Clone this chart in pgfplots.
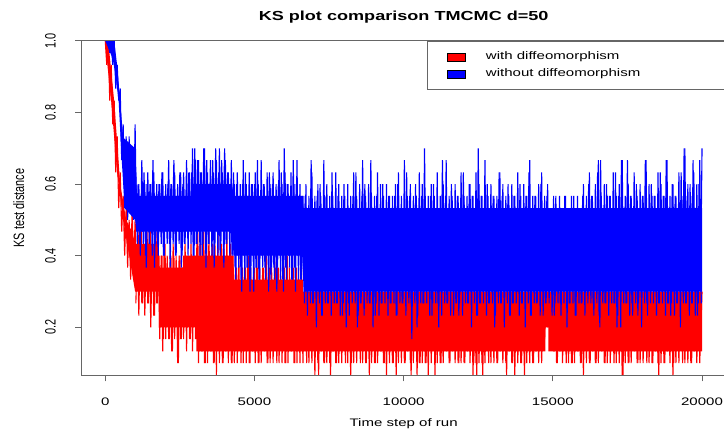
\documentclass[border=0pt]{standalone}
\usepackage{fontspec}
\setmainfont{Liberation Sans}[FakeStretch=1.38]
\newfontfamily\rotfont{Liberation Sans}
\usepackage{graphicx}
\usepackage{pgfplots}
\usepackage{pgfplotstable}
\pgfplotsset{compat=1.18}

\pgfplotstableread{
x r b
0 1 1
50 0.933 1
100 1 1
150 0.833 0.967
200 0.933 1
250 0.767 0.933
300 0.833 1
350 0.633 0.867
400 0.733 0.933
450 0.533 0.833
500 0.633 0.867
550 0.467 0.667
600 0.567 0.767
650 0.4 0.533
700 0.533 0.733
750 0.367 0.5
800 0.5 0.733
850 0.333 0.533
900 0.533 0.7
950 0.367 0.5
1000 0.5 0.767
1050 0.3 0.467
1100 0.467 0.6
1150 0.333 0.433
1200 0.5 0.567
1250 0.267 0.467
1300 0.433 0.633
1350 0.3 0.4
1400 0.467 0.6
1450 0.267 0.467
1500 0.5 0.6
1550 0.3 0.467
1600 0.433 0.667
1650 0.233 0.367
1700 0.467 0.567
1750 0.267 0.433
1800 0.4 0.6
1850 0.2 0.467
1900 0.4 0.633
1950 0.167 0.4
2000 0.433 0.567
2050 0.2 0.467
2100 0.367 0.6
2150 0.167 0.433
2200 0.4 0.6
2250 0.133 0.467
2300 0.4 0.667
2350 0.2 0.4
2400 0.367 0.567
2450 0.1 0.467
2500 0.4 0.633
2550 0.167 0.367
2600 0.367 0.6
2650 0.2 0.433
2700 0.4 0.567
2750 0.2 0.467
2800 0.367 0.633
2850 0.167 0.467
2900 0.4 0.633
2950 0.2 0.4
3000 0.4 0.7
3050 0.167 0.433
3100 0.467 0.667
3150 0.133 0.467
3200 0.433 0.633
3250 0.133 0.4
3300 0.467 0.7
3350 0.1 0.467
3400 0.433 0.667
3450 0.133 0.433
3500 0.4 0.6
3550 0.133 0.467
3600 0.433 0.667
3650 0.1 0.367
3700 0.4 0.7
3750 0.133 0.467
3800 0.367 0.633
3850 0.133 0.4
3900 0.433 0.667
3950 0.1 0.467
4000 0.4 0.7
4050 0.133 0.433
4100 0.4 0.633
4150 0.133 0.467
4200 0.433 0.6
4250 0.1 0.4
4300 0.367 0.633
4350 0.133 0.367
4400 0.367 0.6
4450 0.133 0.4
4500 0.333 0.567
4550 0.1 0.333
4600 0.367 0.6
4650 0.133 0.4
4700 0.367 0.633
4750 0.133 0.367
4800 0.4 0.567
4850 0.1 0.3
4900 0.333 0.6
4950 0.133 0.4
5000 0.367 0.6
5050 0.133 0.367
5100 0.367 0.667
5150 0.1 0.333
5200 0.333 0.567
5250 0.133 0.4
5300 0.367 0.6
5350 0.133 0.367
5400 0.4 0.567
5450 0.1 0.4
5500 0.367 0.633
5550 0.133 0.333
5600 0.333 0.6
5650 0.133 0.367
5700 0.367 0.567
5750 0.1 0.3
5800 0.367 0.6
5850 0.133 0.4
5900 0.333 0.633
5950 0.133 0.333
6000 0.367 0.7
6050 0.1 0.367
6100 0.4 0.6
6150 0.133 0.4
6200 0.333 0.567
6250 0.133 0.333
6300 0.367 0.667
6350 0.1 0.367
6400 0.367 0.6
6450 0.133 0.4
6500 0.333 0.567
6550 0.133 0.333
6600 0.333 0.567
6650 0.133 0.333
6700 0.333 0.567
6750 0.1 0.3
6800 0.3 0.533
6850 0.167 0.333
6900 0.3 0.667
6950 0.133 0.267
7000 0.267 0.533
7050 0.133 0.3
7100 0.3 0.567
7150 0.067 0.3
7200 0.333 0.6
7250 0.133 0.233
7300 0.3 0.533
7350 0.1 0.3
7400 0.3 0.567
7450 0.133 0.267
7500 0.267 0.533
7550 0.067 0.3
7600 0.3 0.633
7650 0.133 0.3
7700 0.3 0.533
7750 0.1 0.267
7800 0.267 0.567
7850 0.133 0.3
7900 0.3 0.533
7950 0.133 0.233
8000 0.3 0.6
8050 0.1 0.3
8100 0.333 0.533
8150 0.133 0.267
8200 0.3 0.533
8250 0.1 0.3
8300 0.267 0.567
8350 0.133 0.3
8400 0.3 0.633
8450 0.133 0.2
8500 0.3 0.533
8550 0.1 0.267
8600 0.3 0.567
8650 0.133 0.3
8700 0.267 0.6
8750 0.1 0.3
8800 0.3 0.533
8850 0.067 0.267
8900 0.3 0.667
8950 0.133 0.3
9000 0.333 0.533
9050 0.1 0.233
9100 0.3 0.567
9150 0.133 0.3
9200 0.267 0.533
9250 0.133 0.267
9300 0.3 0.6
9350 0.1 0.333
9400 0.3 0.533
9450 0.133 0.3
9500 0.3 0.567
9550 0.133 0.267
9600 0.267 0.533
9650 0.1 0.3
9700 0.3 0.567
9750 0.067 0.233
9800 0.3 0.6
9850 0.133 0.3
9900 0.267 0.533
9950 0.133 0.267
10000 0.3 0.533
10050 0.1 0.3
10100 0.3 0.633
10150 0.133 0.3
10200 0.333 0.567
10250 0.067 0.267
10300 0.3 0.533
10350 0.133 0.3
10400 0.267 0.6
10450 0.067 0.2
10500 0.3 0.533
10550 0.1 0.3
10600 0.3 0.567
10650 0.133 0.267
10700 0.3 0.7
10750 0.1 0.3
10800 0.267 0.533
10850 0.133 0.3
10900 0.3 0.567
10950 0.133 0.233
11000 0.3 0.6
11050 0.067 0.3
11100 0.3 0.533
11150 0.133 0.267
11200 0.333 0.533
11250 0.1 0.3
11300 0.267 0.667
11350 0.133 0.333
11400 0.3 0.567
11450 0.133 0.267
11500 0.3 0.533
11550 0.1 0.3
11600 0.267 0.6
11650 0.133 0.3
11700 0.3 0.533
11750 0.133 0.267
11800 0.3 0.567
11850 0.1 0.233
11900 0.333 0.533
11950 0.133 0.3
12000 0.267 0.633
12050 0.1 0.3
12100 0.3 0.533
12150 0.133 0.267
12200 0.3 0.6
12250 0.133 0.3
12300 0.3 0.567
12350 0.1 0.3
12400 0.267 0.533
12450 0.067 0.233
12500 0.3 0.7
12550 0.133 0.267
12600 0.3 0.567
12650 0.067 0.3
12700 0.267 0.533
12750 0.133 0.3
12800 0.3 0.6
12850 0.1 0.267
12900 0.3 0.533
12950 0.133 0.3
13000 0.3 0.567
13050 0.133 0.2
13100 0.333 0.533
13150 0.1 0.3
13200 0.3 0.633
13250 0.133 0.267
13300 0.267 0.567
13350 0.133 0.3
13400 0.3 0.533
13450 0.067 0.3
13500 0.3 0.6
13550 0.133 0.233
13600 0.3 0.533
13650 0.1 0.267
13700 0.3 0.567
13750 0.133 0.3
13800 0.333 0.533
13850 0.133 0.3
13900 0.3 0.6
13950 0.1 0.267
14000 0.267 0.533
14050 0.067 0.333
14100 0.3 0.567
14150 0.133 0.3
14200 0.3 0.633
14250 0.133 0.233
14300 0.3 0.533
14350 0.1 0.3
14400 0.267 0.567
14450 0.133 0.267
14500 0.3 0.533
14550 0.133 0.3
14600 0.333 0.6
14650 0.133 0.3
14700 0.3 0.533
14750 0.2 0.267
14800 0.3 0.567
14850 0.233 0.3
14900 0.267 0.533
14950 0.2 0.3
15000 0.3 0.533
15050 0.133 0.233
15100 0.333 0.567
15150 0.1 0.3
15200 0.3 0.533
15250 0.133 0.267
15300 0.3 0.533
15350 0.133 0.3
15400 0.267 0.567
15450 0.1 0.3
15500 0.3 0.533
15550 0.133 0.267
15600 0.3 0.533
15650 0.1 0.3
15700 0.3 0.567
15750 0.133 0.233
15800 0.267 0.533
15850 0.133 0.3
15900 0.3 0.533
15950 0.1 0.267
16000 0.3 0.567
16050 0.133 0.3
16100 0.3 0.533
16150 0.133 0.3
16200 0.333 0.6
16250 0.1 0.333
16300 0.3 0.567
16350 0.133 0.267
16400 0.267 0.533
16450 0.1 0.3
16500 0.3 0.633
16550 0.133 0.233
16600 0.3 0.667
16650 0.133 0.3
16700 0.333 0.533
16750 0.1 0.267
16800 0.3 0.6
16850 0.133 0.3
16900 0.267 0.567
16950 0.133 0.3
17000 0.3 0.533
17050 0.1 0.267
17100 0.3 0.633
17150 0.133 0.2
17200 0.3 0.567
17250 0.133 0.3
17300 0.333 0.667
17350 0.067 0.3
17400 0.3 0.533
17450 0.133 0.267
17500 0.267 0.667
17550 0.1 0.3
17600 0.3 0.567
17650 0.133 0.267
17700 0.3 0.533
17750 0.133 0.3
17800 0.3 0.6
17850 0.1 0.233
17900 0.3 0.533
17950 0.133 0.3
18000 0.267 0.567
18050 0.133 0.3
18100 0.333 0.667
18150 0.1 0.267
18200 0.3 0.533
18250 0.133 0.3
18300 0.3 0.6
18350 0.1 0.333
18400 0.3 0.567
18450 0.133 0.3
18500 0.267 0.533
18550 0.067 0.267
18600 0.3 0.633
18650 0.133 0.3
18700 0.3 0.567
18750 0.1 0.3
18800 0.267 0.667
18850 0.133 0.267
18900 0.3 0.533
18950 0.133 0.233
19000 0.333 0.6
19050 0.1 0.3
19100 0.3 0.567
19150 0.133 0.267
19200 0.3 0.533
19250 0.133 0.3
19300 0.267 0.633
19350 0.1 0.3
19400 0.3 0.7
19450 0.133 0.267
19500 0.3 0.567
19550 0.133 0.3
19600 0.3 0.6
19650 0.1 0.267
19700 0.3 0.667
19750 0.133 0.3
19800 0.333 0.533
19850 0.133 0.233
19900 0.267 0.6
19950 0.167 0.3
20000 0.3 0.7
}\ksdata

\pgfplotstableread{
x r b
1025 0.267 0.633
1075 0.433 0.433
1125 0.233 0.6
1175 0.467 0.4
1225 0.267 0.667
1275 0.433 0.433
1325 0.233 0.6
1375 0.433 0.367
1425 0.267 0.633
1475 0.467 0.433
1525 0.2 0.6
1575 0.433 0.4
1625 0.233 0.633
1675 0.4 0.433
1725 0.267 0.6
1775 0.433 0.4
1825 0.167 0.6
1875 0.4 0.433
1925 0.133 0.633
1975 0.433 0.4
2025 0.167 0.6
2075 0.4 0.433
2125 0.167 0.667
2175 0.4 0.367
2225 0.133 0.6
2275 0.433 0.433
2325 0.167 0.633
2375 0.4 0.4
2425 0.1 0.6
2475 0.4 0.433
2525 0.167 0.633
2575 0.367 0.4
2625 0.167 0.633
2675 0.433 0.433
2725 0.133 0.667
2775 0.4 0.4
2825 0.167 0.633
2875 0.433 0.433
2925 0.133 0.7
2975 0.4 0.4
3025 0.167 0.667
3075 0.467 0.433
3125 0.1 0.667
3175 0.433 0.4
3225 0.133 0.633
3275 0.467 0.433
3325 0.1 0.7
3375 0.433 0.367
3425 0.1 0.633
3475 0.467 0.433
3525 0.133 0.667
3575 0.433 0.4
3625 0.1 0.633
3675 0.433 0.433
3725 0.067 0.667
3775 0.467 0.4
3825 0.1 0.7
3875 0.433 0.433
3925 0.1 0.633
3975 0.433 0.367
4025 0.133 0.667
4075 0.467 0.433
4125 0.1 0.633
4175 0.433 0.4
4225 0.1 0.667
4275 0.4 0.4
4325 0.1 0.6
4375 0.367 0.333
4425 0.1 0.633
4475 0.4 0.367
4525 0.133 0.6
4575 0.367 0.3
4625 0.1 0.667
4675 0.367 0.333
4725 0.1 0.6
4775 0.4 0.367
4825 0.1 0.633
4875 0.367 0.333
4925 0.133 0.6
4975 0.367 0.3
5025 0.1 0.633
5075 0.4 0.367
5125 0.1 0.6
5175 0.367 0.333
5225 0.1 0.667
5275 0.367 0.367
5325 0.133 0.6
5375 0.4 0.333
5425 0.1 0.633
5475 0.367 0.3
5525 0.1 0.6
5575 0.367 0.367
5625 0.1 0.633
5675 0.4 0.333
5725 0.133 0.6
5775 0.367 0.367
5825 0.1 0.667
5875 0.367 0.333
5925 0.1 0.6
5975 0.4 0.3
6025 0.1 0.633
6075 0.367 0.333
6125 0.1 0.6
6175 0.367 0.367
6225 0.133 0.633
6275 0.4 0.333
6325 0.1 0.6
6375 0.367 0.3
6425 0.1 0.667
6475 0.367 0.333
6525 0.1 0.6
6575 0.367 0.333
6625 0.1 0.567
6675 0.3 0.267
6725 0.133 0.6
6775 0.3 0.233
6825 0.1 0.567
6875 0.3 0.267
6925 0.1 0.633
6975 0.3 0.267
7025 0.067 0.567
7075 0.3 0.2
7125 0.1 0.6
7175 0.3 0.267
7225 0.133 0.567
7275 0.3 0.233
7325 0.1 0.667
7375 0.3 0.267
7425 0.1 0.6
7475 0.3 0.267
7525 0.1 0.567
7575 0.3 0.233
7625 0.133 0.567
7675 0.3 0.267
7725 0.1 0.633
7775 0.3 0.267
7825 0.1 0.6
7875 0.3 0.233
7925 0.1 0.567
7975 0.3 0.267
8025 0.133 0.567
8075 0.3 0.2
8125 0.1 0.6
8175 0.3 0.233
8225 0.067 0.567
8275 0.3 0.267
8325 0.1 0.633
8375 0.3 0.267
8425 0.1 0.567
8475 0.3 0.233
8525 0.133 0.6
8575 0.3 0.267
8625 0.1 0.667
8675 0.3 0.233
8725 0.1 0.567
8775 0.3 0.267
8825 0.133 0.6
8875 0.3 0.267
8925 0.1 0.567
8975 0.3 0.2
9025 0.1 0.567
9075 0.3 0.267
9125 0.1 0.633
9175 0.3 0.233
9225 0.133 0.6
9275 0.3 0.267
9325 0.1 0.567
9375 0.3 0.267
9425 0.067 0.6
9475 0.3 0.233
9525 0.1 0.567
9575 0.3 0.267
9625 0.1 0.567
9675 0.3 0.267
9725 0.133 0.6
9775 0.3 0.233
9825 0.1 0.633
9875 0.3 0.267
9925 0.1 0.567
9975 0.3 0.267
10025 0.1 0.667
10075 0.3 0.233
10125 0.133 0.567
10175 0.3 0.267
10225 0.1 0.6
10275 0.3 0.167
10325 0.1 0.567
10375 0.3 0.267
10425 0.133 0.567
10475 0.3 0.233
10525 0.1 0.633
10575 0.3 0.267
10625 0.1 0.6
10675 0.3 0.267
10725 0.1 0.567
10775 0.3 0.267
10825 0.067 0.567
10875 0.3 0.233
10925 0.1 0.6
10975 0.3 0.267
11025 0.133 0.567
11075 0.3 0.267
11125 0.1 0.633
11175 0.3 0.2
11225 0.1 0.567
11275 0.3 0.233
11325 0.1 0.6
11375 0.3 0.267
11425 0.133 0.667
11475 0.3 0.267
11525 0.1 0.567
11575 0.3 0.233
11625 0.133 0.567
11675 0.3 0.233
11725 0.1 0.6
11775 0.3 0.267
11825 0.1 0.567
11875 0.3 0.267
11925 0.1 0.633
11975 0.3 0.233
12025 0.1 0.567
12075 0.3 0.267
12125 0.133 0.567
12175 0.3 0.267
12225 0.1 0.6
12275 0.3 0.2
12325 0.067 0.567
12375 0.3 0.267
12425 0.1 0.633
12475 0.3 0.233
12525 0.1 0.6
12575 0.3 0.267
12625 0.1 0.567
12675 0.3 0.267
12725 0.1 0.667
12775 0.3 0.233
12825 0.133 0.567
12875 0.3 0.267
12925 0.1 0.6
12975 0.3 0.267
13025 0.1 0.567
13075 0.3 0.233
13125 0.1 0.567
13175 0.3 0.267
13225 0.133 0.633
13275 0.3 0.267
13325 0.1 0.6
13375 0.3 0.2
13425 0.1 0.567
13475 0.3 0.267
13525 0.133 0.567
13575 0.3 0.233
13625 0.1 0.6
13675 0.3 0.267
13725 0.067 0.567
13775 0.3 0.267
13825 0.1 0.633
13875 0.3 0.233
13925 0.1 0.567
13975 0.3 0.267
14025 0.133 0.6
14075 0.3 0.2
14125 0.1 0.567
14175 0.3 0.267
14225 0.1 0.667
14275 0.3 0.233
14325 0.1 0.567
14375 0.3 0.267
14425 0.133 0.567
14475 0.3 0.267
14525 0.1 0.6
14575 0.3 0.233
14625 0.1 0.633
14675 0.3 0.233
14725 0.167 0.567
14775 0.3 0.267
14825 0.2 0.6
14875 0.3 0.267
14925 0.167 0.533
14975 0.3 0.233
15025 0.133 0.567
15075 0.3 0.267
15125 0.1 0.533
15175 0.3 0.267
15225 0.133 0.567
15275 0.3 0.233
15325 0.1 0.533
15375 0.3 0.267
15425 0.133 0.567
15475 0.3 0.2
15525 0.1 0.533
15575 0.3 0.267
15625 0.1 0.567
15675 0.3 0.267
15725 0.1 0.533
15775 0.3 0.233
15825 0.133 0.567
15875 0.3 0.267
15925 0.1 0.533
15975 0.3 0.267
16025 0.067 0.6
16075 0.3 0.233
16125 0.1 0.567
16175 0.3 0.267
16225 0.1 0.633
16275 0.3 0.267
16325 0.133 0.567
16375 0.3 0.233
16425 0.1 0.6
16475 0.3 0.267
16525 0.1 0.667
16575 0.3 0.2
16625 0.133 0.567
16675 0.3 0.267
16725 0.1 0.6
16775 0.3 0.267
16825 0.1 0.567
16875 0.3 0.233
16925 0.1 0.567
16975 0.3 0.267
17025 0.133 0.633
17075 0.3 0.267
17125 0.1 0.567
17175 0.3 0.233
17225 0.1 0.6
17275 0.3 0.2
17325 0.067 0.667
17375 0.3 0.267
17425 0.1 0.567
17475 0.3 0.267
17525 0.1 0.6
17575 0.3 0.233
17625 0.1 0.567
17675 0.3 0.233
17725 0.133 0.633
17775 0.3 0.267
17825 0.1 0.567
17875 0.3 0.267
17925 0.1 0.6
17975 0.3 0.2
18025 0.1 0.567
18075 0.3 0.267
18125 0.133 0.667
18175 0.3 0.233
18225 0.1 0.6
18275 0.3 0.267
18325 0.1 0.567
18375 0.3 0.267
18425 0.133 0.567
18475 0.3 0.233
18525 0.1 0.633
18575 0.3 0.267
18625 0.1 0.6
18675 0.3 0.267
18725 0.1 0.567
18775 0.3 0.233
18825 0.133 0.667
18875 0.3 0.267
18925 0.1 0.567
18975 0.3 0.267
19025 0.067 0.6
19075 0.3 0.233
19125 0.1 0.567
19175 0.3 0.267
19225 0.1 0.633
19275 0.3 0.2
19325 0.133 0.567
19375 0.3 0.267
19425 0.1 0.7
19475 0.3 0.267
19525 0.1 0.6
19575 0.3 0.233
19625 0.1 0.567
19675 0.3 0.267
19725 0.133 0.633
19775 0.3 0.233
19825 0.1 0.6
19875 0.3 0.267
19925 0.1 0.667
19975 0.3 0.267
}\ksteeth

\begin{document}
\fontsize{10.9bp}{13bp}\selectfont
\begin{tikzpicture}
\useasboundingbox (0,0) rectangle (724bp,432bp);
\begin{axis}[
  at={(81.4bp,56.7bp)}, anchor=south west,
  scale only axis, width=644.5bp, height=334.4bp,
  xmin=-800, xmax=20800, ymin=0.066, ymax=1.0,
  axis on top,
  tick pos=left, tick align=outside,
  major tick length=6bp,
  axis line style={black!60, line width=0.9bp},
  tick style={black!60, line width=0.9bp},
  scaled x ticks=false, scaled y ticks=false,
  xtick={0,5000,10000,15000,20000},
  xticklabels={0,5000,10000,15000,20000},
  ytick={0.2,0.4,0.6,0.8,1.0},
  yticklabels={{\scalebox{1}[1.38]{\rotfont 0.2}},{\scalebox{1}[1.38]{\rotfont 0.4}},{\scalebox{1}[1.38]{\rotfont 0.6}},{\scalebox{1}[1.38]{\rotfont 0.8}},{\scalebox{1}[1.38]{\rotfont 1.0}}},
  xticklabel style={anchor=north, inner sep=0pt},
  xticklabel shift=16.2bp,
  yticklabel style={rotate=90, anchor=south, inner sep=0pt},
  yticklabel shift=19.4bp,
  title={KS plot comparison TMCMC d=50},
  every axis title/.style={at={(0.5,1)}, anchor=base, yshift=20.2bp, inner sep=0pt, font=\bfseries\fontsize{13.1bp}{15bp}\selectfont},
  xlabel={Time step of run},
  every axis x label/.style={at={(0.5,0)}, anchor=base, yshift=-51.4bp, inner sep=0pt},
  ylabel={\scalebox{1}[1.38]{\rotfont KS test distance}},
  every axis y label/.style={at={([xshift=-57.4bp]axis description cs:0,0.5)}, rotate=90, anchor=base, inner sep=0pt},
  legend style={at={(0.5367,1)}, anchor=north west, draw=black!60, line width=0.9bp, fill=white,
    inner xsep=19.7bp, inner ysep=10.5bp, row sep=6.5bp, column sep=20bp,
    nodes={inner sep=0pt, text height=8bp, text depth=2.5bp}},
  legend cell align=left,
]
% dense core of the red band
\addplot[forget plot, fill=red, draw=none] coordinates {
 (0,1) (100,1) (300,0.83) (500,0.6) (700,0.5) (900,0.467) (1000,0.433)
 (1800,0.433) (1800,0.367) (2600,0.367) (2600,0.4) (4300,0.4) (4300,0.333)
 (6600,0.333) (6600,0.3) (20000,0.3)
 (20000,0.133) (14850,0.133) (14850,0.2) (14750,0.2) (14750,0.133)
 (3050,0.133) (3050,0.2) (1800,0.2) (1800,0.3) (1000,0.3) (800,0.4)
 (600,0.5) (400,0.63) (200,0.83) (50,0.95) (0,1)} -- cycle;
\addplot[forget plot, color=red, line width=1.1bp, line join=bevel, mark=none] table[x=x, y=r] {\ksdata};
\addplot[forget plot, color=red, line width=1.1bp, line join=bevel, mark=none] table[x=x, y=r] {\ksteeth};
% dense core of the blue band
\addplot[forget plot, fill=blue, draw=none] coordinates {
 (0,1) (300,1) (400,0.93) (500,0.83) (600,0.73) (1000,0.7) (1050,0.567)
 (2900,0.567) (2900,0.6) (4250,0.6) (4300,0.567) (6600,0.567) (6650,0.533)
 (20000,0.533)
 (20000,0.3) (6650,0.3) (6600,0.4) (4300,0.4) (4250,0.467) (1050,0.467)
 (1000,0.5) (650,0.533) (550,0.67) (450,0.83) (350,0.9) (250,0.95) (0,1)} -- cycle;
\addplot[forget plot, color=blue, line width=1.1bp, line join=bevel, mark=none] table[x=x, y=b] {\ksdata};
\addplot[forget plot, color=blue, line width=1.1bp, line join=bevel, mark=none] table[x=x, y=b] {\ksteeth};
\addlegendimage{legend image code/.code={\draw[fill=red, draw=black, line width=0.5bp] (0bp,-3.7bp) rectangle (18bp,3.7bp);}}
\addlegendentry{\makebox[250bp][l]{with diffeomorphism}}
\addlegendimage{legend image code/.code={\draw[fill=blue, draw=black, line width=0.5bp] (0bp,-3.7bp) rectangle (18bp,3.7bp);}}
\addlegendentry{\makebox[250bp][l]{without diffeomorphism}}
\end{axis}
\end{tikzpicture}
\end{document}
